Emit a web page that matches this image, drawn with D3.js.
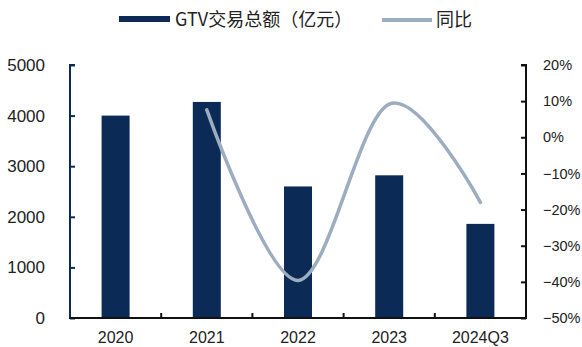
<!DOCTYPE html>
<html>
<head>
<meta charset="utf-8">
<script src="https://cdn.jsdelivr.net/npm/d3@7"></script>
<style>
  html, body { margin: 0; padding: 0; background: #fff; }
  svg { display: block; }
  text { font-family: "Liberation Sans", Arial, sans-serif; fill: #222; }
  .cjk { font-family: "Noto Sans CJK SC", "Liberation Sans", sans-serif; }
</style>
</head>
<body>
<svg id="chart" width="582" height="347"></svg>
<script>
// GTV (亿元) by period, with year-over-year growth (%)
const categories = ["2020", "2021", "2022", "2023", "2024Q3"];
const gtvValues = [4000, 4270, 2600, 2820, 1860];
const yoyValues = [null, 7.6, -39.6, 9.2, -18.0];
const leftTicks = [0, 1000, 2000, 3000, 4000, 5000];
const rightTicks = [20, 10, 0, -10, -20, -30, -40, -50];

const barColor = "#0b2a56";
const lineColor = "#9cadc0";

const svg = d3.select("#chart");
const plot = { left: 70, right: 526, top: 65, bottom: 318 };

const x = d3.scaleBand().domain(categories).range([plot.left, plot.right]).paddingInner(0).paddingOuter(0);
const yL = d3.scaleLinear().domain([0, 5000]).range([plot.bottom, plot.top]);
const yR = d3.scaleLinear().domain([-50, 20]).range([plot.bottom, plot.top]);

const barW = 28;

// bars
svg.append("g").selectAll("rect")
  .data(categories.map((c, i) => ({ c, v: gtvValues[i] })))
  .join("rect")
  .attr("x", d => x(d.c) + x.bandwidth() / 2 - barW / 2)
  .attr("width", barW)
  .attr("y", d => yL(d.v))
  .attr("height", d => yL(0) - yL(d.v))
  .attr("fill", barColor);

// growth line (smoothed)
const pts = categories.map((c, i) => ({ c, v: yoyValues[i] }));
const line = d3.line()
  .defined(d => d.v !== null)
  .x(d => x(d.c) + x.bandwidth() / 2)
  .y(d => yR(d.v))
  .curve(d3.curveCardinal.tension(0));
svg.append("path")
  .datum(pts)
  .attr("d", line)
  .attr("fill", "none")
  .attr("stroke", lineColor)
  .attr("stroke-width", 3.5)
  .attr("stroke-linecap", "round");

// left axis
const gL = svg.append("g").attr("transform", `translate(${plot.left},0)`)
  .call(d3.axisRight(yL).tickValues(leftTicks).tickSize(5).tickFormat(d3.format("d")));
gL.select(".domain").attr("stroke", barColor).attr("stroke-width", 2).attr("d", `M5,${plot.top}H0V${plot.bottom}`);
gL.selectAll(".tick line").attr("stroke", barColor).attr("stroke-width", 2);
gL.selectAll(".tick text").attr("x", -25).attr("text-anchor", "end")
  .style("font-size", "17px").attr("fill", "#333");

// right axis
const gR = svg.append("g").attr("transform", `translate(${plot.right},0)`)
  .call(d3.axisLeft(yR).tickValues(rightTicks).tickSize(5).tickFormat(d => d3.format("d")(d) + "%"));
gR.select(".domain").attr("stroke", "#111").attr("stroke-width", 2).attr("d", `M-5,${plot.top}H0V${plot.bottom}`);
gR.selectAll(".tick line").attr("stroke", "#111").attr("stroke-width", 2);
gR.selectAll(".tick text").attr("x", 17).attr("text-anchor", "start")
  .style("font-size", "14.5px").attr("fill", "#333");

// bottom axis with ticks at category boundaries
const gB = svg.append("g").attr("transform", `translate(0,${plot.bottom})`);
gB.append("line").attr("x1", plot.left - 1).attr("x2", plot.right + 1)
  .attr("stroke", "#111").attr("stroke-width", 2);
gB.selectAll("line.sep").data(categories.slice(1)).join("line")
  .attr("class", "sep")
  .attr("x1", d => x(d)).attr("x2", d => x(d))
  .attr("y1", 0).attr("y2", -5)
  .attr("stroke", "#111").attr("stroke-width", 2);
gB.selectAll("text").data(categories).join("text")
  .attr("x", d => x(d) + x.bandwidth() / 2)
  .attr("y", 24.5)
  .attr("text-anchor", "middle")
  .style("font-size", "16px")
  .attr("fill", "#333")
  .text(d => d);

// legend
const lg = svg.append("g");
lg.append("rect").attr("x", 119).attr("y", 16).attr("width", 51).attr("height", 6).attr("fill", barColor);
lg.append("text").attr("class", "cjk").attr("x", 175).attr("y", 20).attr("dy", "0.35em")
  .style("font-size", "18px").attr("fill", "#333").text("GTV交易总额（亿元）");
lg.append("line").attr("x1", 382).attr("x2", 432).attr("y1", 20).attr("y2", 20)
  .attr("stroke", lineColor).attr("stroke-width", 4);
lg.append("text").attr("class", "cjk").attr("x", 436).attr("y", 20).attr("dy", "0.35em")
  .style("font-size", "18px").attr("fill", "#333").text("同比");
</script>
</body>
</html>
